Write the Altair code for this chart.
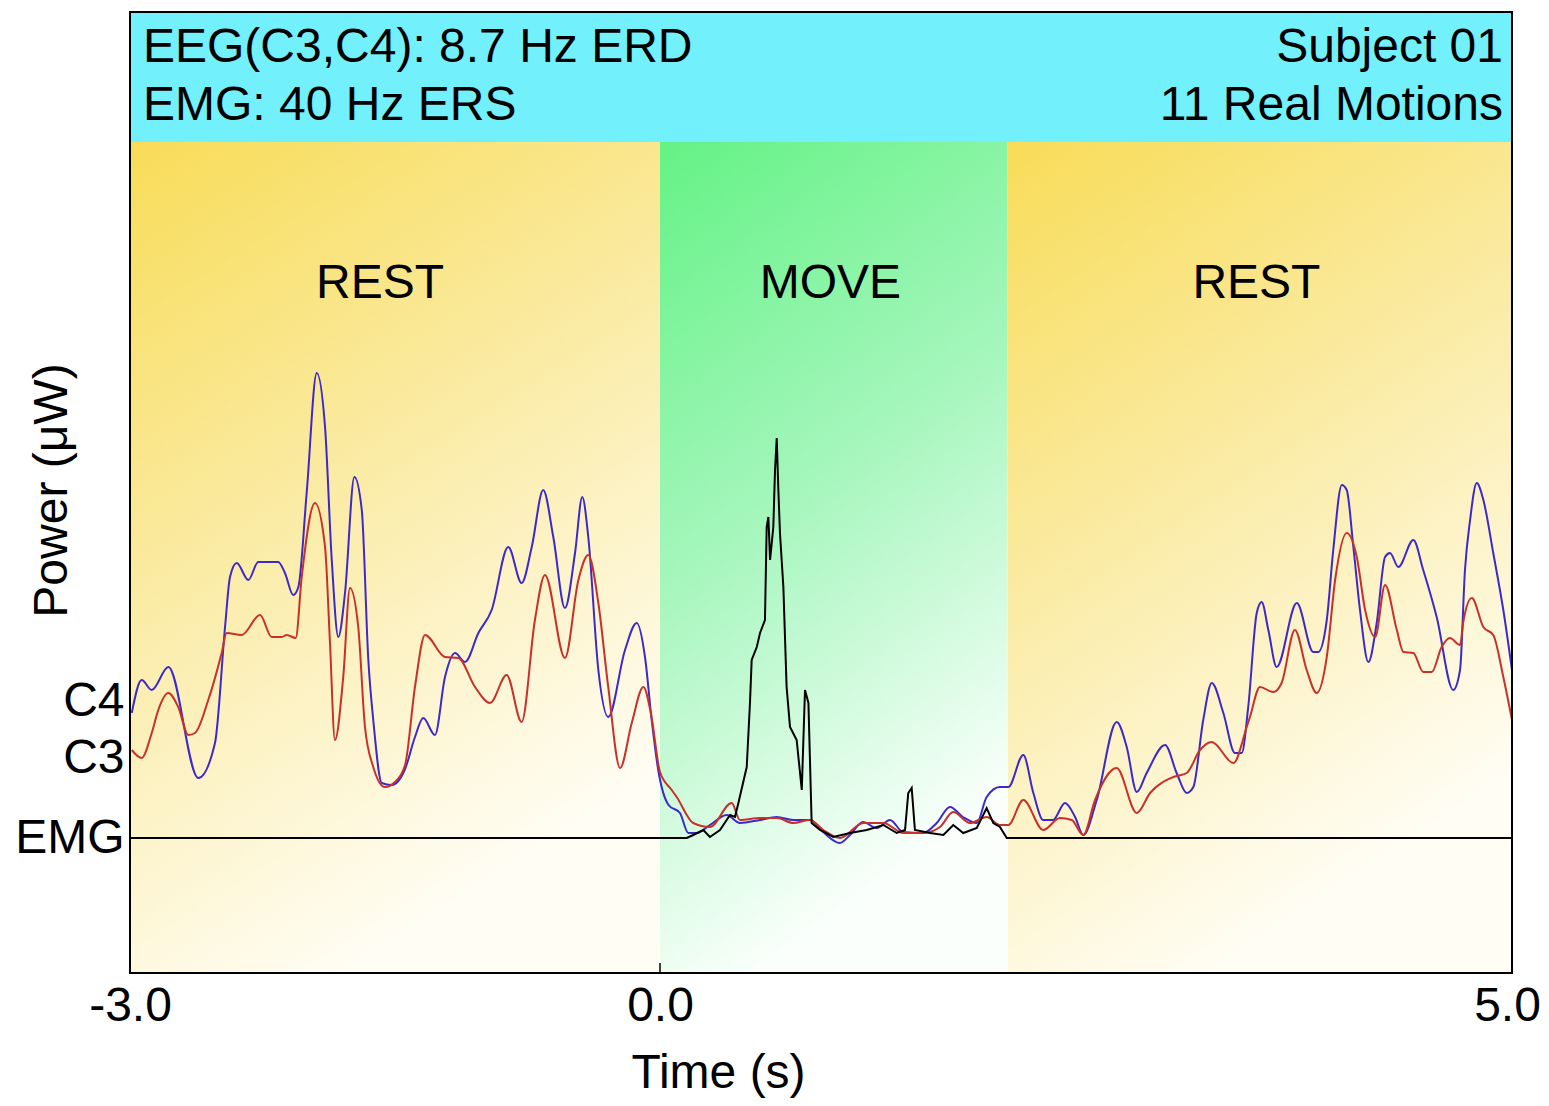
import altair as alt
import pandas as pd

# ---------------- data ----------------
# C4 (blue) : time (s), power
c4_t = [-2.99, -2.934, -2.877, -2.783, -2.613, -2.519, -2.462, -2.434, -2.396, -2.33, -2.274, -2.161, -2.123,
        -2.076, -2.047, -2.0, -1.943, -1.896, -1.858, -1.821, -1.783, -1.73, -1.688, -1.651, -1.623, -1.575,
        -1.519, -1.443, -1.387, -1.34, -1.274, -1.217, -1.16, -1.104, -1.028, -0.953, -0.859, -0.783, -0.726,
        -0.661, -0.604, -0.538, -0.481, -0.44, -0.406, -0.349, -0.293, -0.198, -0.132, -0.085, -0.047, -0.01,
        0.05, 0.117, 0.166, 0.215, 0.293, 0.391, 0.469, 0.587, 0.685, 0.782, 0.88, 0.957, 1.056, 1.115, 1.191,
        1.272, 1.35, 1.426, 1.543, 1.624, 1.702, 1.778, 1.859, 1.917, 1.995, 2.044, 2.132, 2.191, 2.249, 2.306,
        2.377, 2.436, 2.484, 2.563, 2.68, 2.739, 2.798, 2.856, 2.964, 3.032, 3.091, 3.13, 3.188, 3.238, 3.306,
        3.374, 3.414, 3.452, 3.502, 3.531, 3.57, 3.619, 3.737, 3.834, 3.863, 3.913, 3.951, 4.001, 4.03, 4.069,
        4.108, 4.157, 4.206, 4.255, 4.284, 4.333, 4.421, 4.479, 4.558, 4.655, 4.695, 4.724, 4.754, 4.793, 4.832,
        4.89, 4.949, 5.0]
c4_p = [12.5, 15.8, 14.8, 17.1, 6.0, 9.5, 21.1, 26.1, 27.5, 25.8, 27.6, 27.6, 26.5, 24.3, 25.1, 34.5, 46.5,
        41.1, 27.8, 20.1, 24.5, 36.1, 32.8, 17.8, 11.8, 5.5, 5.3, 6.9, 10.1, 12.0, 10.3, 16.1, 18.5, 17.6, 20.5,
        22.8, 29.1, 25.5, 29.1, 34.8, 30.1, 23.0, 28.5, 34.1, 30.1, 16.8, 12.1, 18.8, 21.5, 18.1, 11.8, 6.8, 3.3,
        2.5, 0.5, 0.5, 1.3, 2.3, 1.5, 1.8, 2.1, 1.8, 1.8, 0.6, -0.5, 0.3, 1.6, 1.0, 1.8, 0.6, 0.5, 1.5, 3.1, 2.1,
        1.5, 4.1, 5.1, 5.1, 8.3, 4.5, 1.8, 1.8, 3.5, 2.1, 0.3, 3.8, 11.6, 9.1, 4.6, 6.5, 9.3, 6.5, 4.5, 5.1, 11.8,
        15.5, 12.5, 8.5, 8.5, 13.1, 22.5, 23.6, 20.8, 17.1, 23.5, 18.6, 18.6, 21.8, 28.8, 35.3, 34.8, 29.1, 22.8,
        17.6, 21.5, 28.1, 28.5, 27.1, 29.8, 26.8, 22.1, 14.8, 16.8, 26.8, 31.8, 35.5, 33.8, 28.5, 22.8, 16.8]

# C3 (red)
c3_t = [-2.99, -2.934, -2.877, -2.84, -2.783, -2.727, -2.67, -2.632, -2.557, -2.481, -2.453, -2.368, -2.264,
        -2.198, -2.141, -2.113, -2.062, -2.028, -1.953, -1.896, -1.868, -1.84, -1.793, -1.755, -1.708, -1.67,
        -1.623, -1.557, -1.5, -1.443, -1.387, -1.33, -1.217, -1.142, -1.047, -0.962, -0.868, -0.783, -0.708,
        -0.651, -0.538, -0.462, -0.406, -0.349, -0.293, -0.226, -0.16, -0.094, -0.05, 0.0, 0.069, 0.098, 0.195,
        0.293, 0.421, 0.469, 0.587, 0.685, 0.782, 0.88, 0.958, 1.056, 1.193, 1.311, 1.428, 1.545, 1.643, 1.721,
        1.819, 1.917, 1.995, 2.044, 2.132, 2.249, 2.347, 2.416, 2.484, 2.553, 2.68, 2.798, 2.876, 3.013, 3.091,
        3.169, 3.238, 3.365, 3.443, 3.462, 3.521, 3.599, 3.648, 3.726, 3.795, 3.854, 3.913, 3.962, 4.03, 4.089,
        4.138, 4.197, 4.255, 4.324, 4.363, 4.421, 4.479, 4.529, 4.587, 4.636, 4.695, 4.714, 4.764, 4.832, 4.89,
        4.949, 5.0]
c3_p = [8.8, 8.0, 10.5, 12.8, 14.5, 13.1, 10.3, 10.5, 13.8, 18.5, 20.5, 20.3, 22.3, 20.1, 20.1, 20.3, 20.0, 26.1,
        33.5, 29.1, 19.5, 9.8, 16.1, 25.0, 21.1, 11.1, 7.1, 5.1, 5.6, 7.3, 15.1, 20.3, 18.1, 18.0, 15.1, 13.5,
        16.3, 11.6, 21.8, 26.3, 18.0, 25.8, 28.3, 23.5, 15.1, 7.0, 11.5, 15.1, 12.3, 6.6, 4.8, 4.1, 1.5, 1.1, 3.5,
        1.8, 2.0, 2.0, 1.5, 1.8, 0.8, 0.0, 1.5, 1.5, 0.5, 0.5, 1.1, 2.6, 1.5, 2.1, 1.3, 1.3, 3.8, 0.8, 2.0, 1.8,
        0.3, 3.8, 7.0, 2.5, 4.5, 6.1, 6.5, 8.8, 9.6, 7.5, 11.1, 12.1, 15.1, 14.6, 15.5, 20.8, 16.8, 14.5, 18.1,
        25.8, 30.5, 28.1, 22.8, 20.1, 25.3, 20.8, 18.6, 18.5, 16.6, 16.6, 19.1, 20.0, 19.3, 21.6, 24.0, 21.1,
        20.3, 16.1, 11.8]

# EMG (black)
emg_t = [-3.0, 0.157, 0.195, 0.254, 0.293, 0.352, 0.411, 0.44, 0.46, 0.509, 0.528, 0.538, 0.568, 0.587, 0.616,
         0.626, 0.636, 0.646, 0.665, 0.675, 0.685, 0.694, 0.704, 0.724, 0.743, 0.763, 0.802, 0.832, 0.851, 0.871,
         0.89, 0.939, 1.017, 1.115, 1.213, 1.311, 1.389, 1.438, 1.457, 1.477, 1.496, 1.585, 1.663, 1.721, 1.78,
         1.859, 1.917, 1.956, 1.995, 2.035, 5.0]
emg_p = [0, 0, 0.3, 0.8, 0.1, 0.8, 2.3, 2.1, 3.5, 7.1, 13.5, 17.8, 19.1, 20.5, 21.8, 31.1, 32.1, 27.8, 31.1, 36.8,
         40.0, 35.1, 30.5, 25.1, 15.1, 11.1, 9.8, 4.8, 14.8, 13.5, 1.5, 0.8, 0.1, 0.5, 0.8, 1.3, 0.5, 0.8, 4.5,
         5.0, 0.8, 0.5, 0.3, 1.3, 0.5, 1.0, 3.0, 1.5, 1.1, 0, 0]

# phases
phase_names = ["REST", "MOVE", "REST"]
phase_start = [-3.0, 0.0, 2.04]
phase_end = [0.0, 2.04, 5.0]
phase_label_t = [-1.585, 1.0, 3.5]

header_left = ["EEG(C3,C4): 8.7 Hz ERD", "EMG: 40 Hz ERS"]
header_right = ["Subject 01", "11 Real Motions"]

x_ticks = [-3.0, 0.0, 5.0]
channel_labels = ["C4", "C3", "EMG"]
channel_pos = [13.7, 8.0, 0.0]

# ---------------- chart ----------------
FONT = "Liberation Sans"
FS = 48
W, H = 1382, 961
HEADER_H = 130

xs = alt.Scale(domain=[-3, 0, 5], range=[0, 530, W], nice=False, zero=False)
ys = alt.Scale(domain=[-13.5, 82.6], nice=False, zero=False)

label_expr = ""
for lab, pos in zip(channel_labels, channel_pos):
    label_expr += f"datum.value == {pos} ? '{lab}' : "
label_expr += "''"

x_axis = alt.Axis(values=x_ticks, labelExpr="replace(format(datum.value, '.1f'), '\u2212', '-')",
                  ticks=False, tickSize=0, domain=False, grid=False,
                  labelFlush=False, labelOverlap=False, labelPadding=9, labelFontSize=FS, labelColor="black",
                  labelOffset={"condition": {"test": f"datum.value == {x_ticks[-1]}", "value": -5}, "value": 0},
                  labelFont=FONT, titleFont=FONT, titleFontSize=FS, titleFontWeight="normal", titleColor="black",
                  titleX=588, titleY=114, titleBaseline="alphabetic", titleAlign="center")
y_axis = alt.Axis(values=channel_pos, labelExpr=label_expr, ticks=False, tickSize=0, domain=False, grid=False,
                  labelPadding=6, labelFontSize=FS, labelColor="black", labelFont=FONT, labelBaseline="middle",
                  labelOverlap=False, labelFlush=False,
                  titleFont=FONT, titleFontSize=FS, titleFontWeight="normal", titleColor="black",
                  titleAngle=270, titleX=-64, titleY=478, titleAlign="center", titleBaseline="alphabetic")

X_TITLE = "Time (s)"
Y_TITLE = "Power (μW)"

phases = pd.DataFrame({"name": phase_names, "start": phase_start, "end": phase_end, "lt": phase_label_t})
rest = phases[phases["name"] == "REST"]
move = phases[phases["name"] == "MOVE"]

yellow = alt.LinearGradient(gradient="linear",
                            stops=[alt.GradientStop(color="#F8DC58", offset=0),
                                   alt.GradientStop(color="#FAEA9F", offset=0.45),
                                   alt.GradientStop(color="#FFFDF4", offset=1)],
                            x1=0, y1=0, x2=0.4, y2=1)
green = alt.LinearGradient(gradient="linear",
                           stops=[alt.GradientStop(color="#64F285", offset=0),
                                  alt.GradientStop(color="#A6F6BD", offset=0.5),
                                  alt.GradientStop(color="#FBFFFC", offset=1)],
                           x1=0, y1=0, x2=0.3, y2=1)

rest_layer = alt.Chart(rest).mark_rect(fill=yellow, strokeWidth=0).encode(
    x=alt.X("start:Q", scale=xs, axis=x_axis, title=X_TITLE),
    x2="end:Q",
    y=alt.value(HEADER_H), y2=alt.value(H))
move_layer = alt.Chart(move).mark_rect(fill=green, strokeWidth=0).encode(
    x=alt.X("start:Q", scale=xs, axis=x_axis, title=X_TITLE),
    x2="end:Q",
    y=alt.value(HEADER_H), y2=alt.value(H))

dummy = pd.DataFrame({"d": [0]})
header_rect = alt.Chart(dummy).mark_rect(fill="#72F0FC", strokeWidth=0).encode(
    x=alt.value(0), x2=alt.value(W), y=alt.value(0), y2=alt.value(HEADER_H))

phase_text = alt.Chart(phases).mark_text(font=FONT, fontSize=FS, align="center", baseline="alphabetic",
                                          color="black").encode(
    x=alt.X("lt:Q", scale=xs, axis=x_axis, title=X_TITLE),
    y=alt.value(286),
    text="name:N")


def trace(ts, ps, color, width, interp):
    df = pd.DataFrame({"t": ts, "p": ps})
    return alt.Chart(df).mark_line(color=color, strokeWidth=width, interpolate=interp).encode(
        x=alt.X("t:Q", scale=xs, axis=x_axis, title=X_TITLE),
        y=alt.Y("p:Q", scale=ys, axis=y_axis, title=Y_TITLE),
        order="t:Q")


c4_layer = trace(c4_t, c4_p, "#3D29C9", 2, "monotone")
c3_layer = trace(c3_t, c3_p, "#C8302A", 2, "monotone")
emg_layer = trace(emg_t, emg_p, "#000000", 2, "linear")

header_layers = []
for i, txt in enumerate(header_left):
    header_layers.append(alt.Chart(dummy).mark_text(text=txt, font=FONT, fontSize=FS, align="left",
                                                   baseline="alphabetic", color="black").encode(
        x=alt.value(13), y=alt.value(50 + 58 * i)))
for i, txt in enumerate(header_right):
    header_layers.append(alt.Chart(dummy).mark_text(text=txt, font=FONT, fontSize=FS, align="right",
                                                   baseline="alphabetic", color="black").encode(
        x=alt.value(W - 9), y=alt.value(50 + 58 * i)))

zero_tick = alt.Chart(pd.DataFrame({"t": [0.0]})).mark_rule(color="black", strokeWidth=1.5).encode(
    x=alt.X("t:Q", scale=xs, axis=x_axis, title=X_TITLE),
    y=alt.value(H), y2=alt.value(H - 10))

frame = alt.Chart(dummy).mark_rect(filled=False, stroke="black", strokeWidth=2).encode(
    x=alt.value(0), x2=alt.value(W), y=alt.value(0), y2=alt.value(H))

chart = alt.layer(
    rest_layer, move_layer, header_rect, phase_text,
    c4_layer, c3_layer, emg_layer,
    *header_layers, zero_tick, frame
).properties(
    width=W, height=H,
    autosize=alt.AutoSizeParams(type="none"),
    padding={"left": 122, "top": 4, "right": 29, "bottom": 125},
    background="white",
).configure(font=FONT).configure_view(stroke="transparent")

chart.save("out.html", embed_options={"renderer": "svg", "actions": False})
